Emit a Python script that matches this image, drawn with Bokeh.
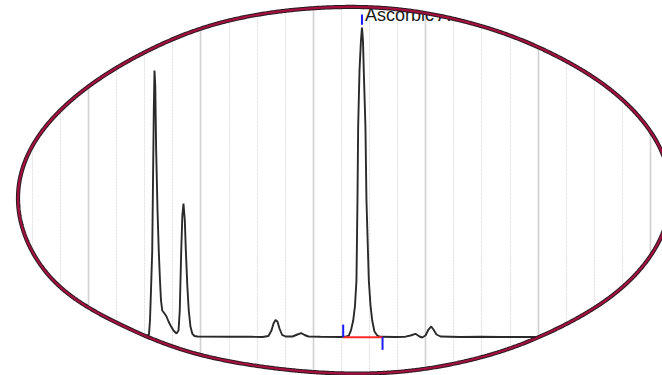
import numpy as np
from bokeh.plotting import figure
from bokeh.models import SingleIntervalTicker
from bokeh.core.properties import value
from bokeh.embed import file_html
from bokeh.resources import INLINE

# Chromatogram trace: retention time (min) and detector signal (relative units)
time_min = [1.329, 1.516, 1.538, 1.547, 1.556, 1.567, 1.574, 1.581, 1.587, 1.594,
            1.602, 1.614, 1.625, 1.636, 1.645, 1.656, 1.676, 1.694, 1.712, 1.730,
            1.756, 1.783, 1.801, 1.812, 1.825, 1.835, 1.845, 1.857, 1.866, 1.879,
            1.892, 1.907, 1.923, 1.943, 1.970, 2.263, 2.441, 2.548, 2.601, 2.628,
            2.646, 2.664, 2.681, 2.699, 2.723, 2.753, 2.815, 2.859, 2.892, 2.922,
            2.957, 3.064, 3.242, 3.295, 3.316, 3.335, 3.355, 3.371, 3.384, 3.393,
            3.399, 3.411, 3.424, 3.433, 3.442, 3.449, 3.464, 3.473, 3.494, 3.509,
            3.524, 3.544, 3.569, 3.598, 3.731, 3.820, 3.865, 3.909, 3.945, 3.969,
            3.998, 4.025, 4.049, 4.069, 4.096, 4.132, 4.310, 4.488, 4.666, 4.843,
            5.066, 5.288]
signal = [-0.16, -0.16, 0.65, 5.19, 14.94, 27.92, 50.65, 73.38, 86.36, 81.49,
          60.39, 40.91, 27.92, 18.18, 11.69, 8.44, 7.47, 6.49, 4.87, 3.57,
          1.95, 0.97, 1.95, 8.44, 27.92, 39.29, 43.18, 37.66, 27.92, 16.56,
          8.44, 3.25, 0.97, 0.16, 0.00, -0.10, -0.10, -0.16, 0.16, 1.95,
          4.22, 5.36, 4.87, 2.60, 0.49, 0.00, 0.00, 0.65, 1.07, 0.49,
          0.00, -0.10, -0.16, 0.00, 0.32, 1.95, 5.19, 10.06, 18.18, 44.16,
          67.86, 86.36, 96.10, 100.32, 96.10, 86.36, 67.86, 44.16, 18.18, 10.06,
          5.19, 1.62, 0.32, -0.10, -0.16, -0.06, 0.32, 0.88, 0.00, -0.32,
          0.32, 2.27, 3.25, 2.27, 0.65, 0.00, -0.16, -0.06, -0.16, -0.16,
          -0.16, -0.16]

# Identified peak and its integration
peak_names = ["Ascorbic Acid"]
peak_apex_time = [3.433]
integ_start_time = [3.266]
integ_end_time = [3.616]
integ_baseline = [-0.23]

# ---- geometry (page pixels -> data) ----
PX_PER_MIN = 112.4
PX_AT_1MIN = 88.0
PX_PER_UNIT = 3.08
BASE_PY = 336.0
W, H = 662, 375

def tx(px):
    return 1.0 + (np.asarray(px, float) - PX_AT_1MIN) / PX_PER_MIN

def sy(py):
    return (BASE_PY - np.asarray(py, float)) / PX_PER_UNIT

p = figure(width=W, height=H, x_range=(float(tx(0)), float(tx(W))),
           y_range=(float(sy(H)), float(sy(0))),
           output_backend="svg", toolbar_location=None, min_border=0,
           outline_line_color=None, background_fill_color="white",
           border_fill_color="white")
p.xaxis.visible = False
p.yaxis.visible = False
p.ygrid.grid_line_color = None
tk = SingleIntervalTicker(interval=1, num_minor_ticks=4)
p.xaxis.ticker = tk
p.xgrid.ticker = tk
p.xgrid.grid_line_color = "#d2d2d2"
p.xgrid.grid_line_width = 1.6
p.xgrid.minor_grid_line_color = "#e2e2e2"
p.xgrid.minor_grid_line_width = 1.2
p.xgrid.minor_grid_line_dash = "2 1"

# trace
p.line(time_min, signal, line_color="#2a2a2a", line_width=1.9)

# integration baseline and markers
p.segment(x0=integ_start_time, y0=integ_baseline, x1=integ_end_time, y1=integ_baseline,
          line_color="#ff2a2a", line_width=2)
p.segment(x0=integ_start_time, y0=integ_baseline, x1=integ_start_time,
          y1=[b + 4.1 for b in integ_baseline], line_color="#1a1aff", line_width=2)
p.segment(x0=integ_end_time, y0=integ_baseline, x1=integ_end_time,
          y1=[b - 4.1 for b in integ_baseline], line_color="#1a1aff", line_width=2)
top_y = [float(v) for v in np.interp(peak_apex_time, time_min, signal)]
p.segment(x0=peak_apex_time, y0=[v + 0.9 for v in top_y], x1=peak_apex_time,
          y1=[v + 4.2 for v in top_y], line_color="#1a1aff", line_width=2)
p.text(x=peak_apex_time, y=[v + 4.2 for v in top_y], text=peak_names,
       x_offset=3, text_font=value("Liberation Sans"), text_font_size="18px",
       text_color="#1a1a1a", text_baseline="alphabetic", text_align="left")

# elliptical vignette mask (slightly irregular outline, as in the photo)
cxp, cyp, ap, bp = 343.9, 190.0, 326.4, 182.5
top_cx = [0, 40, 60, 90, 120, 145, 170, 200, 300, 350, 400, 450, 510, 540, 570, 600, 640, 680]
top_cd = [7, 9.5, 10, 9.5, 8, 6.5, 4.4, 1, -0.5, -1, -2, 0.5, 2, 4, 5, 4.8, 5, 3]
bot_cx = [0, 30, 45, 67, 100, 133, 160, 200, 250, 300, 350, 400, 450, 500, 560, 680]
bot_cd = [7, 7.5, 8.5, 6.4, 2, 0, 1, 1, -1, -0.5, 0.5, 2, 1, 1.2, -1, 3]
n = 1440
phi = np.linspace(0, 2 * np.pi, n, endpoint=False)
ex = cxp + ap * np.cos(phi)
s = np.sin(phi)
corr = np.where(s < 0, np.interp(ex, top_cx, top_cd), np.interp(ex, bot_cx, bot_cd))
k = 121
kern = np.hanning(k); kern /= kern.sum()
pad = np.concatenate([corr[-k:], corr, corr[:k]])
corr = np.convolve(pad, kern, mode="same")[k:-k]
ey = cyp + bp * s + corr
ex = np.append(ex, ex[0]); ey = np.append(ey, ey[0])
hx = list(tx(ex)); hy = list(sy(ey))
ox = list(tx([-200, W + 200, W + 200, -200])); oy = list(sy([-200, -200, H + 200, H + 200]))
p.multi_polygons(xs=[[[ox, hx]]], ys=[[[oy, hy]]], fill_color="white", line_color=None)
p.line(hx, hy, line_color="#2b1a20", line_width=4.2)
p.line(hx, hy, line_color="#a3123f", line_width=2.2)

open("out.html", "w").write(file_html(p, INLINE))
